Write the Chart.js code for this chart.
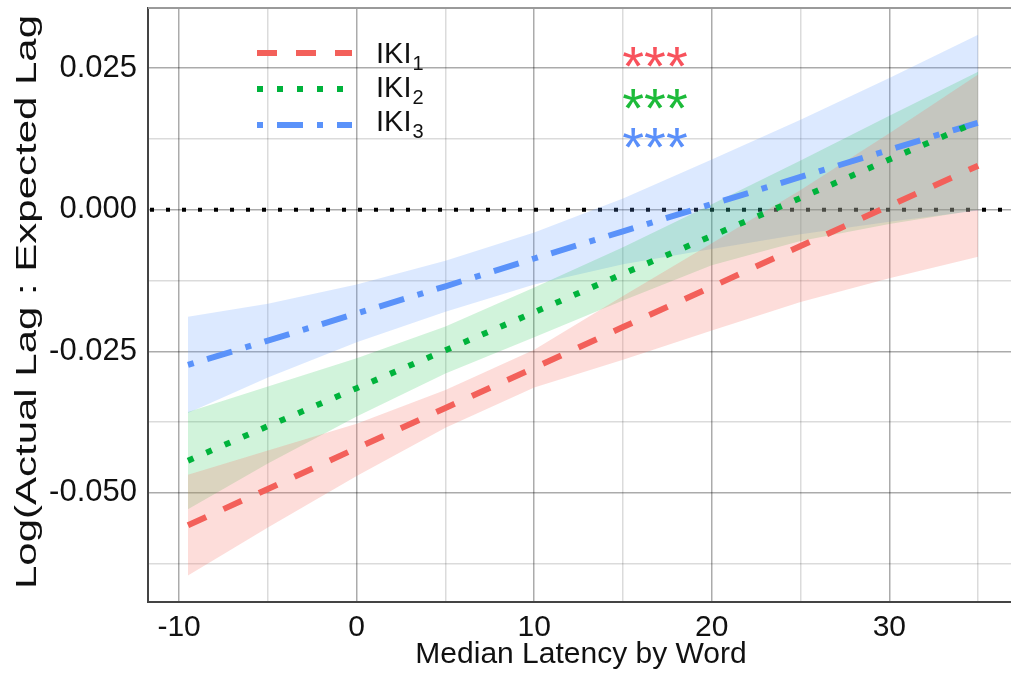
<!DOCTYPE html>
<html>
<head>
<meta charset="utf-8">
<script src="https://cdn.jsdelivr.net/npm/chart.js@4.4.1/dist/chart.umd.min.js"></script>
<style>
  html, body { margin: 0; padding: 0; background: #fff; }
  #wrap { width: 1011px; height: 677px; position: relative; }
</style>
</head>
<body>
<div id="wrap"><canvas id="lagChart"></canvas></div>
<script>
// median latency values where the fits are evaluated
const xs = [-9.5, -5, 0, 5, 10, 15, 20, 25, 30, 35];

// fitted lines
const iki1Fit = [-0.0557, -0.0493, -0.0421, -0.0350, -0.0279, -0.0207, -0.0136, -0.0064, 0.0007, 0.0078];
const iki2Fit = [-0.0443, -0.0382, -0.0315, -0.0248, -0.0181, -0.0113, -0.0046, 0.0021, 0.0089, 0.0156];
const iki3Fit = [-0.0274, -0.0231, -0.0183, -0.0135, -0.0086, -0.0038, 0.0010, 0.0058, 0.0106, 0.0154];

// confidence bands
const iki1Lo = [-0.0646, -0.0561, -0.0470, -0.0385, -0.0314, -0.0265, -0.0213, -0.0163, -0.0121, -0.0083];
const iki1Hi = [-0.0468, -0.0425, -0.0378, -0.0318, -0.0247, -0.0152, -0.0059, 0.0035, 0.0135, 0.0239];
const iki2Lo = [-0.0529, -0.0448, -0.0365, -0.0289, -0.0225, -0.0160, -0.0098, -0.0055, -0.0025, 0.0000];
const iki2Hi = [-0.0357, -0.0312, -0.0262, -0.0206, -0.0137, -0.0066, 0.0010, 0.0087, 0.0166, 0.0244];
const iki3Lo = [-0.0359, -0.0296, -0.0234, -0.0180, -0.0132, -0.0096, -0.0069, -0.0043, -0.0021, -0.0001];
const iki3Hi = [-0.0189, -0.0166, -0.0132, -0.0090, -0.0040, 0.0020, 0.0089, 0.0159, 0.0233, 0.0309];

// axes
const xTickValues = [-10, -5, 0, 5, 10, 15, 20, 25, 30, 35];
const xTickLabels = ['-10', '', '0', '', '10', '', '20', '', '30', ''];
const yTickValues = [-0.0625, -0.05, -0.0375, -0.025, -0.0125, 0, 0.0125, 0.025];
const yTickLabels = ['', '-0.050', '', '-0.025', '', '0.000', '', '0.025'];

const seriesNames = ['IKI', 'IKI', 'IKI'];
const seriesSubs = ['1', '2', '3'];
const signif = ['***', '***', '***'];

const colors = ['#F3605A', '#00B33C', '#5A92FA'];
const starColors = ['#F8525C', '#1DBB3A', '#5A8FFA'];
const bandColors = ['rgba(248,118,109,0.25)', 'rgba(0,186,56,0.18)', 'rgba(97,156,255,0.22)'];
const dashes = [[20, 19], [6, 14], [6, 14, 26, 14]];

const FONT = "'Liberation Sans', Arial, sans-serif";
const pts = (ys) => xs.map((x, i) => ({ x: x, y: ys[i] }));

function lineSet(ys, i) {
    return {
        data: pts(ys),
        borderColor: colors[i],
        borderWidth: 6,
        borderDash: dashes[i],
        borderCapStyle: 'butt',
        pointRadius: 0,
        fill: false,
        tension: 0,
        order: 0,
    };
}

function bandSet(ys, i, fill) {
    return {
        data: pts(ys),
        borderColor: 'transparent',
        borderWidth: 0,
        backgroundColor: bandColors[i],
        pointRadius: 0,
        fill: fill,
        tension: 0,
        order: 1,
    };
}

const isMajorX = (v) => Math.abs(v / 10 - Math.round(v / 10)) < 1e-6;
const isMajorY = (v) => Math.abs(v / 0.025 - Math.round(v / 0.025)) < 1e-6;

// dotted reference line at zero, frame top, titles, legend and stars
const extras = {
    id: 'extras',
    beforeDatasetsDraw(chart) {
        const { ctx, chartArea, scales } = chart;
        const y0 = scales.y.getPixelForValue(0);
        ctx.save();
        ctx.strokeStyle = '#000';
        ctx.lineWidth = 4;
        ctx.setLineDash([4, 12]);
        ctx.beginPath();
        ctx.moveTo(chartArea.left + 2, y0);
        ctx.lineTo(chartArea.right, y0);
        ctx.stroke();
        ctx.setLineDash([]);
        ctx.strokeStyle = '#9a9a9a';
        ctx.lineWidth = 2;
        ctx.beginPath();
        ctx.moveTo(chartArea.left, chartArea.top);
        ctx.lineTo(chartArea.right, chartArea.top);
        ctx.stroke();
        ctx.restore();
    },
    afterDraw(chart) {
        const { ctx } = chart;
        ctx.save();
        ctx.fillStyle = '#111';

        // x title
        ctx.font = '30px ' + FONT;
        ctx.textAlign = 'center';
        ctx.textBaseline = 'alphabetic';
        ctx.fillText('Median Latency by Word', 581, 663);

        // y title, stretched along its length
        const yTitle = 'Log(Actual Lag : Expected Lag';
        const w = ctx.measureText(yTitle).width;
        ctx.save();
        ctx.translate(36, 302);
        ctx.rotate(-Math.PI / 2);
        ctx.scale(574 / w, 1);
        ctx.fillText(yTitle, 0, 0);
        ctx.restore();

        // legend
        const legendY = [53, 89, 125];
        const textBase = [63, 97, 131];
        for (let i = 0; i < 3; i++) {
            ctx.strokeStyle = colors[i];
            ctx.lineWidth = 6;
            ctx.lineCap = 'butt';
            ctx.setLineDash(dashes[i]);
            ctx.beginPath();
            ctx.moveTo(257, legendY[i]);
            ctx.lineTo(352, legendY[i]);
            ctx.stroke();
            ctx.setLineDash([]);

            ctx.fillStyle = '#111';
            ctx.textAlign = 'left';
            ctx.font = '29px ' + FONT;
            ctx.fillText(seriesNames[i], 376, textBase[i]);
            const nw = ctx.measureText(seriesNames[i]).width;
            ctx.font = '20px ' + FONT;
            ctx.fillText(seriesSubs[i], 376 + nw + 1, textBase[i] + 7);
        }

        // significance stars
        const starY = [57, 99, 138];
        ctx.font = '56px ' + FONT;
        ctx.textAlign = 'center';
        for (let i = 0; i < 3; i++) {
            const m = ctx.measureText(signif[i]);
            const off = (m.actualBoundingBoxAscent - m.actualBoundingBoxDescent) / 2;
            ctx.fillStyle = starColors[i];
            ctx.fillText(signif[i], 655, starY[i] + off);
        }
        ctx.restore();
    },
};

document.addEventListener('DOMContentLoaded', function () {
    const ctx = document.getElementById('lagChart').getContext('2d');

    new Chart(ctx, {
        type: 'line',
        data: {
            datasets: [
                lineSet(iki1Fit, 0),
                lineSet(iki2Fit, 1),
                lineSet(iki3Fit, 2),
                bandSet(iki1Hi, 0, '+1'),
                bandSet(iki1Lo, 0, false),
                bandSet(iki2Hi, 1, '+1'),
                bandSet(iki2Lo, 1, false),
                bandSet(iki3Hi, 2, '+1'),
                bandSet(iki3Lo, 2, false),
            ],
        },
        options: {
            responsive: true,
            maintainAspectRatio: false,
            animation: false,
            layout: { padding: { top: 8, right: 0, bottom: 0, left: 0 } },
            plugins: {
                legend: { display: false },
                tooltip: { enabled: false },
            },
            scales: {
                x: {
                    type: 'linear',
                    min: -11.75,
                    max: 36.85,
                    afterBuildTicks: (s) => { s.ticks = xTickValues.map((v) => ({ value: v })); },
                    afterFit: (s) => {
                        s.height = 75;
                        s.paddingLeft = 0;
                        s.paddingRight = 0;
                    },
                    ticks: {
                        callback: (v) => xTickLabels[xTickValues.indexOf(v)],
                        font: { family: FONT, size: 30 },
                        color: '#111',
                        padding: 8,
                        autoSkip: false,
                        maxRotation: 0,
                    },
                    grid: {
                        color: (c) => (c.tick && isMajorX(c.tick.value) ? 'rgba(0,0,0,0.33)' : 'rgba(0,0,0,0.14)'),
                        lineWidth: 1.5,
                        drawTicks: false,
                    },
                    border: { color: '#444', width: 2 },
                },
                y: {
                    type: 'linear',
                    min: -0.06926,
                    max: 0.03564,
                    afterBuildTicks: (s) => { s.ticks = yTickValues.map((v) => ({ value: v })); },
                    afterFit: (s) => {
                        s.width = 148;
                        s.paddingTop = 0;
                        s.paddingBottom = 0;
                    },
                    ticks: {
                        callback: (v) => yTickLabels[yTickValues.indexOf(v)],
                        font: { family: FONT, size: 31 },
                        color: '#111',
                        padding: 11,
                        autoSkip: false,
                    },
                    grid: {
                        color: (c) => (c.tick && isMajorY(c.tick.value) ? 'rgba(0,0,0,0.33)' : 'rgba(0,0,0,0.14)'),
                        lineWidth: 1.5,
                        drawTicks: false,
                    },
                    border: { color: '#444', width: 2 },
                },
            },
        },
        plugins: [extras],
    });
});
</script>
</body>
</html>
